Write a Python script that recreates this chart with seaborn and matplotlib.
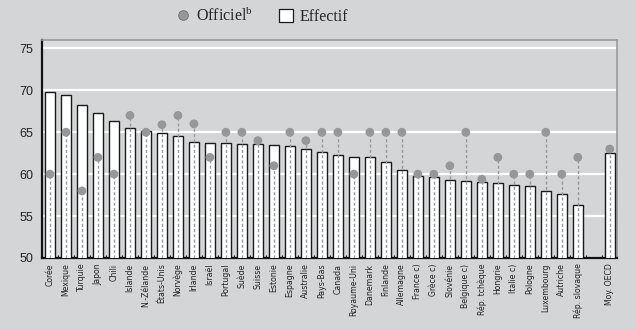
import numpy as np
import pandas as pd
import matplotlib
matplotlib.use("Agg")
import matplotlib.pyplot as plt
import seaborn as sns
from matplotlib.lines import Line2D
from matplotlib.patches import Patch
from matplotlib import font_manager as fm

countries = ["Corée", "Mexique", "Turquie", "Japon", "Chili", "Islande", "N.-Zélande",
             "États-Unis", "Norvège", "Irlande", "Israël", "Portugal", "Suède", "Suisse",
             "Estonie", "Espagne", "Australie", "Pays-Bas", "Canada", "Royaume-Uni",
             "Danemark", "Finlande", "Allemagne", "France c)", "Grèce c)", "Slovénie",
             "Belgique c)", "Rép. tchèque", "Hongrie", "Italie c)", "Pologne",
             "Luxembourg", "Autriche", "Rép. slovaque", "", "Moy. OECD"]
effectif = [69.8, 69.5, 68.3, 67.3, 66.3, 65.5, 65.1, 64.9, 64.6, 63.8, 63.7, 63.7,
            63.65, 63.6, 63.45, 63.4, 63.0, 62.6, 62.3, 62.1, 62.0, 61.4, 60.55, 59.8,
            59.65, 59.3, 59.2, 59.05, 59.0, 58.75, 58.6, 58.05, 57.6, 56.3, np.nan, 62.5]
officiel = [60, 65, 58, 62, 60, 67, 65, 65.9, 67, 66, 62, 65, 65, 64, 61, 65, 64, 65,
            65, 60, 65, 65, 65, 60, 60, 61, 65, 59.4, 62, 60, 60, 65, 60, 62, np.nan, 63]

df = pd.DataFrame({"pays": countries, "effectif": effectif, "officiel": officiel})

sns.set_theme(style="white")
bg = "#d4d5d7"
plt.rcParams["font.family"] = ["Liberation Sans", "DejaVu Sans"]
plt.rcParams["mathtext.fontset"] = "custom"
plt.rcParams["mathtext.rm"] = "Liberation Serif"

names = {f.name for f in fm.fontManager.ttflist}
narrow = "Liberation Sans Narrow" if "Liberation Sans Narrow" in names else None

fig = plt.figure(figsize=(6.36, 3.30), dpi=100, facecolor=bg)
ax = fig.add_axes([42/636, 1-258/330, (617-42)/636, (258-40)/330])
ax.set_facecolor(bg)

sns.barplot(data=df, x="pays", y="effectif", order=countries, ax=ax,
            color="white", edgecolor="#1a1a1a", linewidth=1.0, width=0.62,
            saturation=1, zorder=3)

pos = np.arange(len(countries))
off = np.array(officiel, dtype=float)
m = ~np.isnan(off)
ax.vlines(pos[m], 50, off[m], colors="#9a9a9c", linestyles=(0, (2.2, 1.6)),
          linewidth=1.0, zorder=4)
ax.scatter(pos[m], off[m], s=40, color="#979799", edgecolor="none", zorder=5)

ax.set_ylim(50, 76)
ax.set_xlim(-0.5, 35.45)
ax.set_yticks([50, 55, 60, 65, 70, 75])
for v in [55, 60, 65, 70, 75]:
    ax.axhline(v, color="white", lw=1.6, zorder=1)
ax.axhspan(75.15, 76, color="#dcdddf", lw=0, zorder=0.5)

ax.set_xlabel("")
ax.set_ylabel("")
ax.tick_params(axis="y", length=0, labelsize=9, labelcolor="#222222", pad=6)
ax.tick_params(axis="x", length=0, pad=4)
ax.set_xticks(pos)
if narrow:
    ax.set_xticklabels(countries, rotation=90, fontsize=6.2, color="#222222",
                       family=[narrow, "DejaVu Sans"])
else:
    ax.set_xticklabels(countries, rotation=90, fontsize=6.2, color="#222222",
                       family="DejaVu Sans", fontstretch="condensed")
ax.set_xticks(np.arange(-0.5, 35.5, 1), minor=True)
ax.tick_params(axis="x", which="minor", direction="in", length=2.5, width=0.8,
               color="#1a1a1a", bottom=True)

for s in ["left", "bottom"]:
    ax.spines[s].set_color("#111111")
    ax.spines[s].set_linewidth(1.6)
for s in ["top", "right"]:
    ax.spines[s].set_color("#9a9a9a")
    ax.spines[s].set_linewidth(1.2)

handles = [Line2D([], [], marker="o", linestyle="none", markersize=7,
                  markerfacecolor="#979799", markeredgecolor="#6f6f6f", markeredgewidth=0.6),
           Patch(facecolor="white", edgecolor="#1a1a1a", linewidth=0.9)]
fig.legend(handles, ["Officiel$^{\\mathrm{b}}$", "Effectif"], loc="center",
           bbox_to_anchor=(262/636, 1-16/330), ncol=2, frameon=False,
           prop={"family": "Liberation Serif", "size": 11.5},
           handlelength=0.9, handleheight=0.9, handletextpad=0.4, columnspacing=1.6)

fig.savefig("out.png", dpi=100, facecolor=bg)
